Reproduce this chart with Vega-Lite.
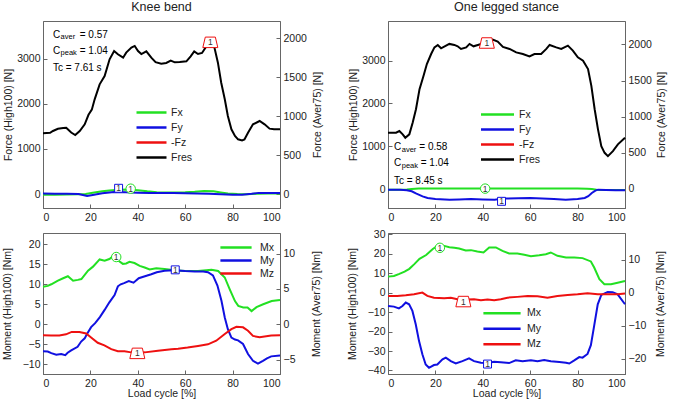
{
"$schema": "https://vega.github.io/schema/vega-lite/v6.json",
"padding": {"left": 1, "top": 0, "right": 0, "bottom": 0},
"background": "white",
"config": {
  "font": "Liberation Sans",
  "view": {"stroke": "#666", "strokeWidth": 1},
  "axis": {"grid": false, "tickSize": -4, "labelPadding": 7, "labelFontSize": 10.5, "titleFontSize": 10.5, "titleFontWeight": "normal", "labelColor": "#222", "titleColor": "#222", "domainColor": "#666", "tickColor": "#666", "labelFont": "Liberation Sans", "titleFont": "Liberation Sans"},
  "title": {"fontSize": 12.5, "fontWeight": "normal", "font": "Liberation Sans", "baseline": "alphabetic", "offset": 8, "color": "#222"},
  "legend": {"labelFontSize": 10.5, "labelFont": "Liberation Sans", "labelColor": "#222", "padding": 0, "symbolStrokeWidth": 2.5, "symbolSize": 144}
},
"datasets": {
  "kb_force": [
    {"series":"Fx","cycle":0,"value":-15},{"series":"Fx","cycle":5,"value":-15},{"series":"Fx","cycle":10,"value":-10},{"series":"Fx","cycle":15,"value":-5},{"series":"Fx","cycle":18,"value":0},{"series":"Fx","cycle":21,"value":30},{"series":"Fx","cycle":25,"value":60},{"series":"Fx","cycle":28,"value":80},{"series":"Fx","cycle":32,"value":95},{"series":"Fx","cycle":36,"value":100},{"series":"Fx","cycle":40,"value":85},{"series":"Fx","cycle":44,"value":60},{"series":"Fx","cycle":48,"value":40},{"series":"Fx","cycle":52,"value":35},{"series":"Fx","cycle":56,"value":35},{"series":"Fx","cycle":60,"value":40},{"series":"Fx","cycle":64,"value":50},{"series":"Fx","cycle":68,"value":65},{"series":"Fx","cycle":72,"value":60},{"series":"Fx","cycle":75,"value":35},{"series":"Fx","cycle":78,"value":10},{"series":"Fx","cycle":82,"value":0},{"series":"Fx","cycle":86,"value":-5},{"series":"Fx","cycle":90,"value":5},{"series":"Fx","cycle":95,"value":10},{"series":"Fx","cycle":100,"value":10},
    {"series":"Fy","cycle":0,"value":10},{"series":"Fy","cycle":5,"value":5},{"series":"Fy","cycle":10,"value":5},{"series":"Fy","cycle":15,"value":0},{"series":"Fy","cycle":18.6,"value":-45},{"series":"Fy","cycle":21,"value":-20},{"series":"Fy","cycle":25,"value":15},{"series":"Fy","cycle":30,"value":45},{"series":"Fy","cycle":35,"value":40},{"series":"Fy","cycle":40,"value":30},{"series":"Fy","cycle":45,"value":20},{"series":"Fy","cycle":50,"value":20},{"series":"Fy","cycle":55,"value":20},{"series":"Fy","cycle":60,"value":15},{"series":"Fy","cycle":65,"value":10},{"series":"Fy","cycle":70,"value":5},{"series":"Fy","cycle":75,"value":-5},{"series":"Fy","cycle":80,"value":-15},{"series":"Fy","cycle":84,"value":-15},{"series":"Fy","cycle":88,"value":5},{"series":"Fy","cycle":91,"value":25},{"series":"Fy","cycle":95,"value":25},{"series":"Fy","cycle":100,"value":20},
    {"series":"Fres","cycle":0,"value":1350},{"series":"Fres","cycle":3,"value":1360},{"series":"Fres","cycle":4.2,"value":1400},{"series":"Fres","cycle":6.3,"value":1450},{"series":"Fres","cycle":8.5,"value":1465},{"series":"Fres","cycle":9.8,"value":1470},{"series":"Fres","cycle":11.9,"value":1365},{"series":"Fres","cycle":13.6,"value":1310},{"series":"Fres","cycle":15.5,"value":1400},{"series":"Fres","cycle":17.6,"value":1548},{"series":"Fres","cycle":19.2,"value":1760},{"series":"Fres","cycle":20.6,"value":1874},{"series":"Fres","cycle":21.8,"value":2104},{"series":"Fres","cycle":23.9,"value":2437},{"series":"Fres","cycle":26,"value":2622},{"series":"Fres","cycle":28.1,"value":2993},{"series":"Fres","cycle":30,"value":3178},{"series":"Fres","cycle":31.6,"value":3104},{"series":"Fres","cycle":33.8,"value":3029},{"series":"Fres","cycle":35.1,"value":3141},{"series":"Fres","cycle":37.3,"value":3252},{"series":"Fres","cycle":38.7,"value":3289},{"series":"Fres","cycle":40.1,"value":3178},{"series":"Fres","cycle":41.5,"value":3110},{"series":"Fres","cycle":43.6,"value":3170},{"series":"Fres","cycle":45.7,"value":3029},{"series":"Fres","cycle":47.5,"value":2930},{"series":"Fres","cycle":49.9,"value":2896},{"series":"Fres","cycle":52,"value":2911},{"series":"Fres","cycle":53.9,"value":2963},{"series":"Fres","cycle":55.6,"value":2926},{"series":"Fres","cycle":57.7,"value":2933},{"series":"Fres","cycle":60.5,"value":2948},{"series":"Fres","cycle":62.3,"value":3059},{"series":"Fres","cycle":63.8,"value":3170},{"series":"Fres","cycle":65.4,"value":3111},{"series":"Fres","cycle":67.1,"value":3133},{"series":"Fres","cycle":68.9,"value":3281},{"series":"Fres","cycle":70.6,"value":3370},{"series":"Fres","cycle":72,"value":3330},{"series":"Fres","cycle":73.8,"value":2918},{"series":"Fres","cycle":75.2,"value":2473},{"series":"Fres","cycle":76.7,"value":2104},{"series":"Fres","cycle":78,"value":1733},{"series":"Fres","cycle":79.5,"value":1437},{"series":"Fres","cycle":81,"value":1290},{"series":"Fres","cycle":82.3,"value":1215},{"series":"Fres","cycle":84,"value":1190},{"series":"Fres","cycle":85,"value":1210},{"series":"Fres","cycle":86.5,"value":1362},{"series":"Fres","cycle":88.6,"value":1548},{"series":"Fres","cycle":91.4,"value":1622},{"series":"Fres","cycle":93.5,"value":1548},{"series":"Fres","cycle":95.6,"value":1452},{"series":"Fres","cycle":97.5,"value":1437},{"series":"Fres","cycle":100,"value":1437}
  ],
  "kb_marks": [
    {"series":"-Fz","marker":"t","cycle":70.6,"value":3370},
    {"series":"Fx","marker":"c","cycle":37,"value":118},
    {"series":"Fy","marker":"s","cycle":31.9,"value":127}
  ],
  "kb_notes": [
    {"cycle":4.2,"value":3460,"label":"C"},{"cycle":15.5,"value":3460,"label":"= 0.57"},
    {"cycle":4.2,"value":3104,"label":"C"},{"cycle":15.5,"value":3104,"label":"= 1.04"},
    {"cycle":4.2,"value":2733,"label":"Tc = 7.61 s"}
  ],
  "kb_subs": [
    {"cycle":7.4,"value":3433,"label":"aver"},{"cycle":7.4,"value":3082,"label":"peak"}
  ],
  "ols_force": [
    {"series":"Fx","cycle":0,"value":-10},{"series":"Fx","cycle":5,"value":-10},{"series":"Fx","cycle":8,"value":-5},{"series":"Fx","cycle":10,"value":8},{"series":"Fx","cycle":13,"value":18},{"series":"Fx","cycle":20,"value":20},{"series":"Fx","cycle":30,"value":18},{"series":"Fx","cycle":40,"value":18},{"series":"Fx","cycle":50,"value":20},{"series":"Fx","cycle":60,"value":20},{"series":"Fx","cycle":70,"value":18},{"series":"Fx","cycle":80,"value":18},{"series":"Fx","cycle":84,"value":15},{"series":"Fx","cycle":86,"value":5},{"series":"Fx","cycle":88,"value":-8},{"series":"Fx","cycle":92,"value":-15},{"series":"Fx","cycle":100,"value":-18},
    {"series":"Fy","cycle":0,"value":-10},{"series":"Fy","cycle":5,"value":-12},{"series":"Fy","cycle":8,"value":-20},{"series":"Fy","cycle":10,"value":-47},{"series":"Fy","cycle":12,"value":-100},{"series":"Fy","cycle":14.6,"value":-164},{"series":"Fy","cycle":16.7,"value":-203},{"series":"Fy","cycle":20,"value":-225},{"series":"Fy","cycle":26,"value":-242},{"series":"Fy","cycle":30,"value":-235},{"series":"Fy","cycle":35,"value":-226},{"series":"Fy","cycle":40,"value":-235},{"series":"Fy","cycle":45,"value":-242},{"series":"Fy","cycle":48.5,"value":-215},{"series":"Fy","cycle":55,"value":-210},{"series":"Fy","cycle":60,"value":-205},{"series":"Fy","cycle":65,"value":-215},{"series":"Fy","cycle":70,"value":-225},{"series":"Fy","cycle":75,"value":-242},{"series":"Fy","cycle":80,"value":-225},{"series":"Fy","cycle":83,"value":-203},{"series":"Fy","cycle":84.5,"value":-160},{"series":"Fy","cycle":86,"value":-86},{"series":"Fy","cycle":87.5,"value":-30},{"series":"Fy","cycle":88.6,"value":-8},{"series":"Fy","cycle":92,"value":-15},{"series":"Fy","cycle":96,"value":-20},{"series":"Fy","cycle":100,"value":-23},
    {"series":"Fres","cycle":0,"value":1319},{"series":"Fres","cycle":3.4,"value":1319},{"series":"Fres","cycle":4.8,"value":1358},{"series":"Fres","cycle":6.2,"value":1281},{"series":"Fres","cycle":7.3,"value":1202},{"series":"Fres","cycle":9,"value":1281},{"series":"Fres","cycle":10.4,"value":1553},{"series":"Fres","cycle":11.8,"value":1866},{"series":"Fres","cycle":13.3,"value":2335},{"series":"Fres","cycle":15,"value":2646},{"series":"Fres","cycle":16.4,"value":2920},{"series":"Fres","cycle":18.2,"value":3154},{"series":"Fres","cycle":19.6,"value":3309},{"series":"Fres","cycle":21,"value":3365},{"series":"Fres","cycle":22.4,"value":3287},{"series":"Fres","cycle":24.5,"value":3349},{"series":"Fres","cycle":25.9,"value":3389},{"series":"Fres","cycle":28,"value":3365},{"series":"Fres","cycle":29.4,"value":3333},{"series":"Fres","cycle":30.8,"value":3272},{"series":"Fres","cycle":33,"value":3309},{"series":"Fres","cycle":34.4,"value":3389},{"series":"Fres","cycle":36.1,"value":3333},{"series":"Fres","cycle":37.9,"value":3365},{"series":"Fres","cycle":40,"value":3400},{"series":"Fres","cycle":42,"value":3430},{"series":"Fres","cycle":44.2,"value":3489},{"series":"Fres","cycle":46.3,"value":3443},{"series":"Fres","cycle":48.5,"value":3320},{"series":"Fres","cycle":51.3,"value":3272},{"series":"Fres","cycle":54.1,"value":3192},{"series":"Fres","cycle":56.9,"value":3154},{"series":"Fres","cycle":59.7,"value":3098},{"series":"Fres","cycle":61.8,"value":3154},{"series":"Fres","cycle":64.6,"value":3154},{"series":"Fres","cycle":66.8,"value":3272},{"series":"Fres","cycle":68.2,"value":3365},{"series":"Fres","cycle":71,"value":3309},{"series":"Fres","cycle":73.1,"value":3272},{"series":"Fres","cycle":75.9,"value":3349},{"series":"Fres","cycle":78,"value":3232},{"series":"Fres","cycle":80.1,"value":3075},{"series":"Fres","cycle":82.3,"value":2998},{"series":"Fres","cycle":84.4,"value":2803},{"series":"Fres","cycle":85.8,"value":2412},{"series":"Fres","cycle":87.2,"value":1866},{"series":"Fres","cycle":88.6,"value":1398},{"series":"Fres","cycle":90,"value":1007},{"series":"Fres","cycle":91.4,"value":850},{"series":"Fres","cycle":92.8,"value":773},{"series":"Fres","cycle":94.9,"value":890},{"series":"Fres","cycle":97,"value":1047},{"series":"Fres","cycle":100,"value":1201}
  ],
  "ols_marks": [
    {"series":"-Fz","marker":"t","cycle":41.7,"value":3410},
    {"series":"Fx","marker":"c","cycle":41,"value":16},
    {"series":"Fy","marker":"s","cycle":47.9,"value":-280}
  ],
  "ols_notes": [
    {"cycle":2.5,"value":909,"label":"C"},{"cycle":13.2,"value":909,"label":"= 0.58"},
    {"cycle":2.5,"value":536,"label":"C"},{"cycle":13.8,"value":536,"label":"= 1.04"},
    {"cycle":2.5,"value":124,"label":"Tc = 8.45 s"}
  ],
  "ols_subs": [
    {"cycle":5.8,"value":874,"label":"aver"},{"cycle":5.8,"value":501,"label":"peak"}
  ],
  "kb_moment": [
    {"series":"Mx","cycle":0,"value":9.4},{"series":"Mx","cycle":2,"value":9.6},{"series":"Mx","cycle":3.5,"value":10},{"series":"Mx","cycle":6.3,"value":10.9},{"series":"Mx","cycle":8.5,"value":11.5},{"series":"Mx","cycle":10.5,"value":12},{"series":"Mx","cycle":12.7,"value":10.9},{"series":"Mx","cycle":14.7,"value":11.1},{"series":"Mx","cycle":16.2,"value":11.3},{"series":"Mx","cycle":19,"value":13.4},{"series":"Mx","cycle":21.1,"value":14.4},{"series":"Mx","cycle":23.9,"value":16.2},{"series":"Mx","cycle":26,"value":15.9},{"series":"Mx","cycle":28,"value":16.3},{"series":"Mx","cycle":30,"value":17.2},{"series":"Mx","cycle":31.6,"value":16},{"series":"Mx","cycle":33.7,"value":15.1},{"series":"Mx","cycle":35.1,"value":15.2},{"series":"Mx","cycle":36.5,"value":15.6},{"series":"Mx","cycle":38.6,"value":15.3},{"series":"Mx","cycle":40.8,"value":14.6},{"series":"Mx","cycle":42.9,"value":14.2},{"series":"Mx","cycle":45,"value":13.7},{"series":"Mx","cycle":47.8,"value":14},{"series":"Mx","cycle":51.3,"value":13.8},{"series":"Mx","cycle":55.6,"value":13.5},{"series":"Mx","cycle":59.8,"value":13.3},{"series":"Mx","cycle":65.4,"value":13.3},{"series":"Mx","cycle":71.1,"value":13.6},{"series":"Mx","cycle":73.9,"value":13.3},{"series":"Mx","cycle":76.7,"value":11.7},{"series":"Mx","cycle":78.8,"value":8.75},{"series":"Mx","cycle":81,"value":5.8},{"series":"Mx","cycle":82.4,"value":4.6},{"series":"Mx","cycle":84.5,"value":4.2},{"series":"Mx","cycle":86.3,"value":4.2},{"series":"Mx","cycle":88,"value":3.3},{"series":"Mx","cycle":90.1,"value":4.3},{"series":"Mx","cycle":92.9,"value":5},{"series":"Mx","cycle":96.5,"value":5.8},{"series":"Mx","cycle":100,"value":6.1},
    {"series":"My","cycle":0,"value":-6.7},{"series":"My","cycle":2,"value":-6.8},{"series":"My","cycle":3.5,"value":-7.2},{"series":"My","cycle":5.6,"value":-7.6},{"series":"My","cycle":7.7,"value":-7.4},{"series":"My","cycle":9.4,"value":-7.7},{"series":"My","cycle":10.4,"value":-7.1},{"series":"My","cycle":11.9,"value":-6.5},{"series":"My","cycle":14.6,"value":-5.6},{"series":"My","cycle":16.1,"value":-4.3},{"series":"My","cycle":17.6,"value":-3.5},{"series":"My","cycle":18.5,"value":-2.5},{"series":"My","cycle":20.3,"value":-0.7},{"series":"My","cycle":22,"value":0.3},{"series":"My","cycle":24,"value":1.8},{"series":"My","cycle":26,"value":3.6},{"series":"My","cycle":28,"value":5.5},{"series":"My","cycle":30.2,"value":7.3},{"series":"My","cycle":31.6,"value":9.5},{"series":"My","cycle":32.8,"value":10},{"series":"My","cycle":34.2,"value":10.3},{"series":"My","cycle":36.2,"value":10.8},{"series":"My","cycle":38.2,"value":10.4},{"series":"My","cycle":40.4,"value":11.5},{"series":"My","cycle":43,"value":12},{"series":"My","cycle":45.7,"value":12.5},{"series":"My","cycle":48,"value":13},{"series":"My","cycle":51.3,"value":13.4},{"series":"My","cycle":55,"value":13.5},{"series":"My","cycle":60,"value":13.3},{"series":"My","cycle":64,"value":13.2},{"series":"My","cycle":67.6,"value":13.2},{"series":"My","cycle":69.6,"value":13},{"series":"My","cycle":71.7,"value":12.2},{"series":"My","cycle":73.6,"value":9.7},{"series":"My","cycle":75.3,"value":5.9},{"series":"My","cycle":76.7,"value":1.7},{"series":"My","cycle":78,"value":-1.2},{"series":"My","cycle":79.5,"value":-3.3},{"series":"My","cycle":81,"value":-3.8},{"series":"My","cycle":82.3,"value":-4},{"series":"My","cycle":84.4,"value":-4.9},{"series":"My","cycle":86.5,"value":-7.4},{"series":"My","cycle":88.6,"value":-9.1},{"series":"My","cycle":90.7,"value":-9.8},{"series":"My","cycle":92.8,"value":-9.1},{"series":"My","cycle":94.5,"value":-8.5},{"series":"My","cycle":96.3,"value":-8},{"series":"My","cycle":100,"value":-7.8},
    {"series":"Mz","cycle":0,"value":-2.7},{"series":"Mz","cycle":3.4,"value":-2.8},{"series":"Mz","cycle":6.9,"value":-2.8},{"series":"Mz","cycle":9.7,"value":-2.5},{"series":"Mz","cycle":12.1,"value":-1.9},{"series":"Mz","cycle":15.4,"value":-1.9},{"series":"Mz","cycle":18.2,"value":-2.3},{"series":"Mz","cycle":20.3,"value":-3.3},{"series":"Mz","cycle":23.1,"value":-4.6},{"series":"Mz","cycle":25.9,"value":-5.25},{"series":"Mz","cycle":28.8,"value":-6.2},{"series":"Mz","cycle":31.6,"value":-6.7},{"series":"Mz","cycle":34.4,"value":-6.7},{"series":"Mz","cycle":37.2,"value":-7},{"series":"Mz","cycle":40,"value":-7.1},{"series":"Mz","cycle":42.9,"value":-7},{"series":"Mz","cycle":48.5,"value":-6.6},{"series":"Mz","cycle":54.2,"value":-6.25},{"series":"Mz","cycle":57,"value":-6.1},{"series":"Mz","cycle":61,"value":-5.8},{"series":"Mz","cycle":65.4,"value":-5.4},{"series":"Mz","cycle":69.6,"value":-5},{"series":"Mz","cycle":73.1,"value":-4.1},{"series":"Mz","cycle":76.7,"value":-2.4},{"series":"Mz","cycle":79.5,"value":-1.2},{"series":"Mz","cycle":81.6,"value":-0.6},{"series":"Mz","cycle":84.4,"value":-0.75},{"series":"Mz","cycle":86.5,"value":-1.6},{"series":"Mz","cycle":88.6,"value":-2.9},{"series":"Mz","cycle":91.4,"value":-3.25},{"series":"Mz","cycle":96.3,"value":-2.8},{"series":"Mz","cycle":100,"value":-2.7}
  ],
  "kb_mmarks": [
    {"series":"Mz","marker":"t","cycle":39.8,"value":-7.25},
    {"series":"Mx","marker":"c","cycle":30.9,"value":16.8},
    {"series":"My","marker":"s","cycle":55.8,"value":13.6}
  ],
  "ols_moment": [
    {"series":"Mx","cycle":0,"value":8.2},{"series":"Mx","cycle":2.5,"value":8.5},{"series":"Mx","cycle":4.8,"value":9.6},{"series":"Mx","cycle":7,"value":10.8},{"series":"Mx","cycle":9,"value":12.2},{"series":"Mx","cycle":11,"value":14.5},{"series":"Mx","cycle":13.3,"value":17.3},{"series":"Mx","cycle":16.1,"value":19.3},{"series":"Mx","cycle":18.9,"value":22.4},{"series":"Mx","cycle":21.5,"value":24.5},{"series":"Mx","cycle":23.7,"value":24},{"series":"Mx","cycle":25.9,"value":23.3},{"series":"Mx","cycle":28,"value":23},{"series":"Mx","cycle":30,"value":22.6},{"series":"Mx","cycle":32.8,"value":21.6},{"series":"Mx","cycle":35,"value":21.8},{"series":"Mx","cycle":37.7,"value":21.1},{"series":"Mx","cycle":40.3,"value":20.6},{"series":"Mx","cycle":42.7,"value":23.2},{"series":"Mx","cycle":45.5,"value":23.2},{"series":"Mx","cycle":48.3,"value":21.4},{"series":"Mx","cycle":51.1,"value":20.1},{"series":"Mx","cycle":54.6,"value":20.1},{"series":"Mx","cycle":57.5,"value":19.4},{"series":"Mx","cycle":60.3,"value":18.7},{"series":"Mx","cycle":63.8,"value":19.2},{"series":"Mx","cycle":66.6,"value":19.7},{"series":"Mx","cycle":68.7,"value":20.6},{"series":"Mx","cycle":71.5,"value":18.9},{"series":"Mx","cycle":75.1,"value":18},{"series":"Mx","cycle":78.6,"value":18},{"series":"Mx","cycle":82.1,"value":17.7},{"series":"Mx","cycle":85.6,"value":16},{"series":"Mx","cycle":87,"value":12.9},{"series":"Mx","cycle":89.2,"value":6.9},{"series":"Mx","cycle":91.3,"value":4.3},{"series":"Mx","cycle":94.1,"value":4.3},{"series":"Mx","cycle":96.9,"value":5.1},{"series":"Mx","cycle":100,"value":6},
    {"series":"My","cycle":0,"value":-6.9},{"series":"My","cycle":2.5,"value":-7.2},{"series":"My","cycle":4.6,"value":-8.1},{"series":"My","cycle":6.1,"value":-6.9},{"series":"My","cycle":7.5,"value":-5.1},{"series":"My","cycle":8.9,"value":-6},{"series":"My","cycle":10.3,"value":-9.4},{"series":"My","cycle":11.7,"value":-16.3},{"series":"My","cycle":13.1,"value":-24.9},{"series":"My","cycle":14.5,"value":-31.7},{"series":"My","cycle":15.9,"value":-36.9},{"series":"My","cycle":17.3,"value":-38.6},{"series":"My","cycle":19.4,"value":-37.2},{"series":"My","cycle":20.8,"value":-36.9},{"series":"My","cycle":23,"value":-34.3},{"series":"My","cycle":24.4,"value":-33.4},{"series":"My","cycle":26.5,"value":-35.2},{"series":"My","cycle":28.6,"value":-36.4},{"series":"My","cycle":31.4,"value":-35.2},{"series":"My","cycle":34.2,"value":-33.8},{"series":"My","cycle":36.3,"value":-35.2},{"series":"My","cycle":39.2,"value":-36},{"series":"My","cycle":42,"value":-36.2},{"series":"My","cycle":44.8,"value":-35.5},{"series":"My","cycle":47.6,"value":-35.8},{"series":"My","cycle":51.1,"value":-36.2},{"series":"My","cycle":53.9,"value":-34.8},{"series":"My","cycle":56.8,"value":-35.2},{"series":"My","cycle":60.3,"value":-34.8},{"series":"My","cycle":63.1,"value":-35.2},{"series":"My","cycle":65.9,"value":-34.6},{"series":"My","cycle":68.7,"value":-35.3},{"series":"My","cycle":72.3,"value":-35.7},{"series":"My","cycle":75.1,"value":-36},{"series":"My","cycle":76.5,"value":-36.4},{"series":"My","cycle":78.6,"value":-34.8},{"series":"My","cycle":80.7,"value":-33.1},{"series":"My","cycle":82.1,"value":-33.4},{"series":"My","cycle":84.2,"value":-31.5},{"series":"My","cycle":85.6,"value":-27},{"series":"My","cycle":87,"value":-17},{"series":"My","cycle":88.5,"value":-6},{"series":"My","cycle":90,"value":-1.2},{"series":"My","cycle":92.7,"value":0.3},{"series":"My","cycle":94.8,"value":0.2},{"series":"My","cycle":96.9,"value":-0.9},{"series":"My","cycle":100,"value":-6},
    {"series":"Mz","cycle":0,"value":-1.7},{"series":"Mz","cycle":3.9,"value":-1.7},{"series":"Mz","cycle":7.5,"value":-1.4},{"series":"Mz","cycle":11,"value":-0.9},{"series":"Mz","cycle":14.5,"value":0},{"series":"Mz","cycle":16.6,"value":-1.7},{"series":"Mz","cycle":19.4,"value":-2.6},{"series":"Mz","cycle":23.7,"value":-2.9},{"series":"Mz","cycle":26.5,"value":-2.6},{"series":"Mz","cycle":29.3,"value":-3.4},{"series":"Mz","cycle":33.5,"value":-3.6},{"series":"Mz","cycle":36.3,"value":-3.4},{"series":"Mz","cycle":39.2,"value":-3.9},{"series":"Mz","cycle":42,"value":-3.6},{"series":"Mz","cycle":44.8,"value":-3.9},{"series":"Mz","cycle":47.6,"value":-3.4},{"series":"Mz","cycle":50.4,"value":-2.6},{"series":"Mz","cycle":54.6,"value":-2.2},{"series":"Mz","cycle":58.9,"value":-1.7},{"series":"Mz","cycle":63.1,"value":-1.9},{"series":"Mz","cycle":67.3,"value":-2.6},{"series":"Mz","cycle":71.5,"value":-1.7},{"series":"Mz","cycle":75.8,"value":-1.2},{"series":"Mz","cycle":80,"value":-0.9},{"series":"Mz","cycle":84.2,"value":-0.3},{"series":"Mz","cycle":88.5,"value":-0.9},{"series":"Mz","cycle":92.7,"value":-0.9},{"series":"Mz","cycle":96.9,"value":-0.9},{"series":"Mz","cycle":100,"value":-0.5}
  ],
  "ols_mmarks": [
    {"series":"Mz","marker":"t","cycle":31.8,"value":-4.6},
    {"series":"Mx","marker":"c","cycle":21.9,"value":23},
    {"series":"My","marker":"s","cycle":42,"value":-36.7}
  ]
},
"columns": 2,
"spacing": {"row": 25, "column": 108},
"bounds": "flush",
"resolve": {"scale": {"color": "independent", "stroke": "independent", "shape": "independent"}, "legend": {"color": "independent"}},
"concat": [
  {
    "width": 237, "height": 187,
    "title": {"text": "Knee bend"},
    "layer": [
      {"mark": {"type": "rule", "color": "#888", "strokeWidth": 1, "opacity": 0},
       "encoding": {"y": {"datum": 0, "type": "quantitative", "scale": {"domain": [-179.4, 2218], "nice": false, "zero": false},
         "axis": {"orient": "right", "values": [0, 500, 1000, 1500, 2000], "format": "d", "title": "Force (Aver75) [N]", "titleAngle": 270, "titleBaseline": "top", "titlePadding": 6}}}},
      {"encoding": {
         "x": {"field": "cycle", "type": "quantitative", "scale": {"domain": [0, 100], "nice": false}, "axis": {"values": [0, 20, 40, 60, 80, 100], "title": null, "labelPadding": 8}},
         "y": {"field": "value", "type": "quantitative", "scale": {"domain": [-311, 3844], "nice": false, "zero": false}, "axis": {"orient": "left", "values": [0, 1000, 2000, 3000], "format": "d", "title": "Force (High100) [N]", "titlePadding": 3}}},
       "layer": [
         {"data": {"name": "kb_force"}, "mark": {"type": "line", "strokeWidth": 2},
          "encoding": {"color": {"field": "series", "type": "nominal", "scale": {"domain": ["Fx", "Fy", "-Fz", "Fres"], "range": ["#22e022", "#1010e0", "#ee1010", "#000000"]},
            "legend": {"orient": "none", "legendX": 101, "legendY": 84, "title": null, "symbolType": "M-2.5,0H2.5", "labelOffset": 12, "rowPadding": 2}}}},
         {"data": {"name": "kb_marks"}, "mark": {"type": "point", "filled": true, "fill": "white", "strokeWidth": 1, "size": 225, "opacity": 1},
          "encoding": {
            "shape": {"field": "marker", "type": "nominal", "scale": {"domain": ["c", "s", "t"], "range": ["M-0.63,0A0.63,0.63,0,1,0,0.63,0A0.63,0.63,0,1,0,-0.63,0Z", "M-0.53,-0.53H0.53V0.53H-0.53Z", "M-1,0.7L-0.67,-0.7L0.67,-0.7L1,0.7Z"]}, "legend": null},
            "stroke": {"field": "series", "type": "nominal", "scale": {"domain": ["Fx", "Fy", "-Fz"], "range": ["#22e022", "#1010e0", "#ee1010"]}, "legend": null}}},
         {"data": {"name": "kb_marks"}, "mark": {"type": "text", "text": "1", "fontSize": 8.5, "color": "#333", "baseline": "middle"}},
         {"data": {"name": "kb_notes"}, "mark": {"type": "text", "align": "left", "baseline": "alphabetic", "fontSize": 10, "color": "#000"},
          "encoding": {"text": {"field": "label"}}},
         {"data": {"name": "kb_subs"}, "mark": {"type": "text", "align": "left", "baseline": "alphabetic", "fontSize": 7.5, "color": "#000"},
          "encoding": {"text": {"field": "label"}}}
       ]}
    ],
    "resolve": {"scale": {"y": "independent"}}
  },
  {
    "width": 237, "height": 187,
    "title": {"text": "One legged stance"},
    "layer": [
      {"mark": {"type": "rule", "color": "#888", "strokeWidth": 1, "opacity": 0},
       "encoding": {"y": {"datum": 0, "type": "quantitative", "scale": {"domain": [-263, 2323], "nice": false, "zero": false},
         "axis": {"orient": "right", "values": [0, 500, 1000, 1500, 2000], "format": "d", "title": "Force (Aver75) [N]", "titleAngle": 270, "titleBaseline": "top", "titlePadding": 5}}}},
      {"encoding": {
         "x": {"field": "cycle", "type": "quantitative", "scale": {"domain": [0, 100], "nice": false}, "axis": {"values": [0, 20, 40, 60, 80, 100], "title": null, "labelPadding": 8}},
         "y": {"field": "value", "type": "quantitative", "scale": {"domain": [-436, 3923], "nice": false, "zero": false}, "axis": {"orient": "left", "values": [0, 1000, 2000, 3000], "format": "d", "title": "Force (High100) [N]", "titlePadding": 3}}},
       "layer": [
         {"data": {"name": "ols_force"}, "mark": {"type": "line", "strokeWidth": 2},
          "encoding": {"color": {"field": "series", "type": "nominal", "scale": {"domain": ["Fx", "Fy", "-Fz", "Fres"], "range": ["#22e022", "#1010e0", "#ee1010", "#000000"]},
            "legend": {"orient": "none", "legendX": 102, "legendY": 86, "title": null, "symbolType": "M-2.75,0H2.75", "labelOffset": 14, "rowPadding": 2}}}},
         {"data": {"name": "ols_marks"}, "mark": {"type": "point", "filled": true, "fill": "white", "strokeWidth": 1, "size": 225, "opacity": 1},
          "encoding": {
            "shape": {"field": "marker", "type": "nominal", "scale": {"domain": ["c", "s", "t"], "range": ["M-0.63,0A0.63,0.63,0,1,0,0.63,0A0.63,0.63,0,1,0,-0.63,0Z", "M-0.53,-0.53H0.53V0.53H-0.53Z", "M-1,0.7L-0.67,-0.7L0.67,-0.7L1,0.7Z"]}, "legend": null},
            "stroke": {"field": "series", "type": "nominal", "scale": {"domain": ["Fx", "Fy", "-Fz"], "range": ["#22e022", "#1010e0", "#ee1010"]}, "legend": null}}},
         {"data": {"name": "ols_marks"}, "mark": {"type": "text", "text": "1", "fontSize": 8.5, "color": "#333", "baseline": "middle"}},
         {"data": {"name": "ols_notes"}, "mark": {"type": "text", "align": "left", "baseline": "alphabetic", "fontSize": 10, "color": "#000"},
          "encoding": {"text": {"field": "label"}}},
         {"data": {"name": "ols_subs"}, "mark": {"type": "text", "align": "left", "baseline": "alphabetic", "fontSize": 7.5, "color": "#000"},
          "encoding": {"text": {"field": "label"}}}
       ]}
    ],
    "resolve": {"scale": {"y": "independent"}}
  },
  {
    "width": 237, "height": 141,
    "layer": [
      {"mark": {"type": "rule", "color": "#808080", "strokeWidth": 1},
       "encoding": {"y": {"datum": 0, "type": "quantitative", "scale": {"domain": [-7.04, 12.93], "nice": false, "zero": false},
         "axis": {"orient": "right", "values": [-5, 0, 5, 10], "format": "d", "title": "Moment (Aver75) [Nm]", "titleAngle": 270, "titleBaseline": "top", "titlePadding": 17}}}},
      {"encoding": {
         "x": {"field": "cycle", "type": "quantitative", "scale": {"domain": [0, 100], "nice": false}, "axis": {"values": [0, 20, 40, 60, 80, 100], "title": "Load cycle [%]", "labelPadding": 8, "titlePadding": 0}},
         "y": {"field": "value", "type": "quantitative", "scale": {"domain": [-12.4, 22.8], "nice": false, "zero": false}, "axis": {"orient": "left", "values": [-10, -5, 0, 5, 10, 15, 20], "format": "d", "title": "Moment (High100) [Nm]", "titlePadding": 10}}},
       "layer": [
         {"data": {"name": "kb_moment"}, "mark": {"type": "line", "strokeWidth": 2},
          "encoding": {"color": {"field": "series", "type": "nominal", "scale": {"domain": ["Mx", "My", "Mz"], "range": ["#22e022", "#1010e0", "#ee1010"]},
            "legend": {"orient": "none", "legendX": 185.5, "legendY": 7, "title": null, "symbolType": "M-2.6,0H2.6", "labelOffset": 16.5, "rowPadding": 0}}}},
         {"data": {"name": "kb_mmarks"}, "mark": {"type": "point", "filled": true, "fill": "white", "strokeWidth": 1, "size": 225, "opacity": 1},
          "encoding": {
            "shape": {"field": "marker", "type": "nominal", "scale": {"domain": ["c", "s", "t"], "range": ["M-0.63,0A0.63,0.63,0,1,0,0.63,0A0.63,0.63,0,1,0,-0.63,0Z", "M-0.53,-0.53H0.53V0.53H-0.53Z", "M-1,0.7L-0.67,-0.7L0.67,-0.7L1,0.7Z"]}, "legend": null},
            "stroke": {"field": "series", "type": "nominal", "scale": {"domain": ["Mx", "My", "Mz"], "range": ["#22e022", "#1010e0", "#ee1010"]}, "legend": null}}},
         {"data": {"name": "kb_mmarks"}, "mark": {"type": "text", "text": "1", "fontSize": 8.5, "color": "#333", "baseline": "middle"}}
       ]}
    ],
    "resolve": {"scale": {"y": "independent"}}
  },
  {
    "width": 237, "height": 141,
    "layer": [
      {"mark": {"type": "rule", "color": "#808080", "strokeWidth": 1},
       "encoding": {"y": {"datum": 0, "type": "quantitative", "scale": {"domain": [-24.7, 18.15], "nice": false, "zero": false},
         "axis": {"orient": "right", "values": [-20, -10, 0, 10], "format": "d", "title": "Moment (Aver75) [Nm]", "titleAngle": 270, "titleBaseline": "top", "titlePadding": 10}}}},
      {"encoding": {
         "x": {"field": "cycle", "type": "quantitative", "scale": {"domain": [0, 100], "nice": false}, "axis": {"values": [0, 20, 40, 60, 80, 100], "title": "Load cycle [%]", "labelPadding": 8, "titlePadding": 0}},
         "y": {"field": "value", "type": "quantitative", "scale": {"domain": [-41.8, 30.6], "nice": false, "zero": false}, "axis": {"orient": "left", "values": [-40, -30, -20, -10, 0, 10, 20, 30], "format": "d", "title": "Moment (High100) [Nm]", "titlePadding": 10}}},
       "layer": [
         {"data": {"name": "ols_moment"}, "mark": {"type": "line", "strokeWidth": 2},
          "encoding": {"color": {"field": "series", "type": "nominal", "scale": {"domain": ["Mx", "My", "Mz"], "range": ["#22e022", "#1010e0", "#ee1010"]},
            "legend": {"orient": "none", "legendX": 106.5, "legendY": 72.7, "title": null, "symbolType": "M-3.1,0H3.1", "labelOffset": 17.5, "rowPadding": 2.5}}}},
         {"data": {"name": "ols_mmarks"}, "mark": {"type": "point", "filled": true, "fill": "white", "strokeWidth": 1, "size": 225, "opacity": 1},
          "encoding": {
            "shape": {"field": "marker", "type": "nominal", "scale": {"domain": ["c", "s", "t"], "range": ["M-0.63,0A0.63,0.63,0,1,0,0.63,0A0.63,0.63,0,1,0,-0.63,0Z", "M-0.53,-0.53H0.53V0.53H-0.53Z", "M-1,0.7L-0.67,-0.7L0.67,-0.7L1,0.7Z"]}, "legend": null},
            "stroke": {"field": "series", "type": "nominal", "scale": {"domain": ["Mx", "My", "Mz"], "range": ["#22e022", "#1010e0", "#ee1010"]}, "legend": null}}},
         {"data": {"name": "ols_mmarks"}, "mark": {"type": "text", "text": "1", "fontSize": 8.5, "color": "#333", "baseline": "middle"}}
       ]}
    ],
    "resolve": {"scale": {"y": "independent"}}
  }
]
}
